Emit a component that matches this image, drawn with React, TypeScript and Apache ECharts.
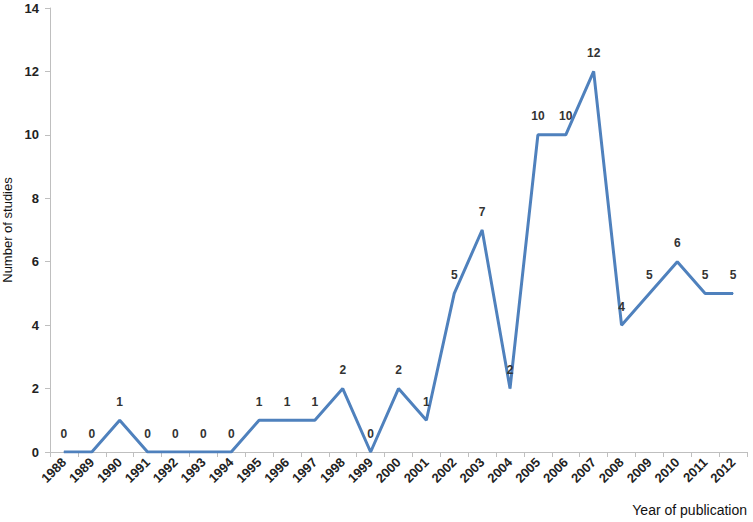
import React, { useEffect, useRef } from "react";
import * as echarts from "echarts";

const years = ["1988","1989","1990","1991","1992","1993","1994","1995","1996","1997","1998","1999","2000","2001","2002","2003","2004","2005","2006","2007","2008","2009","2010","2011","2012"];
const studies = [0,0,1,0,0,0,0,1,1,1,2,0,2,1,5,7,2,10,10,12,4,5,6,5,5];
const yTicks = { min: 0, max: 14, interval: 2 };

export default function App() {
  const ref = useRef<HTMLDivElement>(null);
  useEffect(() => {
    const chart = echarts.init(ref.current!, null, { renderer: "svg" });
    chart.setOption({
      animation: false,
      backgroundColor: "#ffffff",
      grid: { left: 50, right: 6, top: 8, bottom: 70, containLabel: false, outerBoundsMode: "none" },
      xAxis: {
        type: "category",
        data: years,
        boundaryGap: true,
        name: "Year of publication",
        nameLocation: "end",
        nameGap: 0,
        nameTextStyle: {
          fontFamily: "Liberation Sans, Arial, sans-serif",
          fontSize: 14,
          color: "#111",
          align: "right",
          verticalAlign: "top",
          padding: [51, 0, 0, 0],
        },
        axisLine: { lineStyle: { color: "#bfbfbf", width: 1 } },
        axisTick: { show: true, alignWithLabel: false, length: 5, lineStyle: { color: "#bfbfbf" } },
        axisLabel: {
          rotate: 45,
          margin: 8,
          fontFamily: "Liberation Sans, Arial, sans-serif",
          fontSize: 13,
          fontWeight: "bold",
          color: "#222",
          interval: 0,
        },
        splitLine: { show: false },
      },
      yAxis: {
        type: "value",
        min: yTicks.min,
        max: yTicks.max,
        interval: yTicks.interval,
        name: "Number of studies",
        nameLocation: "middle",
        nameGap: 35,
        nameRotate: 90,
        nameTextStyle: {
          fontFamily: "Liberation Sans, Arial, sans-serif",
          fontSize: 13,
          color: "#111",
        },
        axisLine: { show: true, lineStyle: { color: "#bfbfbf", width: 1 } },
        axisTick: { show: true, length: 5, lineStyle: { color: "#bfbfbf" } },
        axisLabel: {
          margin: 11,
          fontFamily: "Liberation Sans, Arial, sans-serif",
          fontSize: 13,
          fontWeight: "bold",
          color: "#222",
        },
        splitLine: { show: false },
      },
      series: [
        {
          type: "line",
          data: studies,
          symbol: "circle",
          symbolSize: 1,
          showSymbol: true,
          lineStyle: { color: "#4f81bd", width: 3 },
          itemStyle: { color: "#4f81bd" },
          label: {
            show: true,
            position: "top",
            distance: 12,
            fontFamily: "Liberation Sans, Arial, sans-serif",
            fontSize: 12,
            fontWeight: "bold",
            color: "#333",
          },
        },
      ],
    });
    return () => chart.dispose();
  }, []);
  return <div ref={ref} style={{ width: 753, height: 522, position: "absolute", left: 0, top: 0 }} />;
}
